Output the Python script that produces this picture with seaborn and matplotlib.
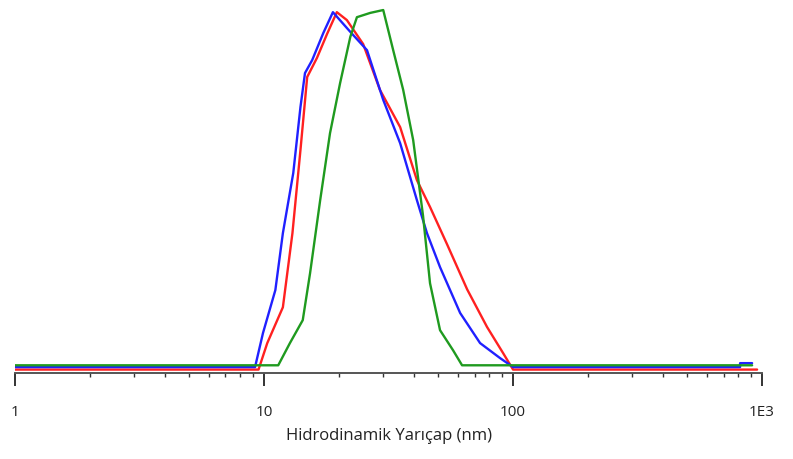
import numpy as np
import pandas as pd
import matplotlib.pyplot as plt
import seaborn as sns
from matplotlib.ticker import FixedLocator, LogLocator, NullFormatter

# radius (nm) and intensity
blue_x = [1, 9.2, 9.9, 11.1, 11.9, 13.1, 14.0, 14.6, 15.6, 17.3, 18.9, 22.2, 25.9,
          30.1, 35.2, 41.1, 45.1, 50.9, 61.3, 73.7, 88.7, 100, 816, 816, 912]
blue_y = [0.3, 0.3, 9.8, 21.8, 37.7, 54.5, 72.9, 82.4, 86.0, 93.6, 99.4, 93.9, 88.8,
          74.9, 62.8, 46.9, 37.7, 28.2, 15.4, 7.0, 2.8, 0.3, 0.3, 1.4, 1.4]

red_x = [1, 9.5, 10.3, 11.9, 13.0, 14.0, 14.9, 16.3, 17.9, 19.6, 21.5, 25.0, 29.2,
         35.2, 41.1, 46.4, 54.3, 65.4, 78.6, 91.2, 100, 955]
red_y = [-0.4, -0.4, 7.0, 17.0, 37.7, 60.9, 81.3, 86.6, 93.3, 99.4, 97.2, 90.5, 77.7,
         67.3, 52.5, 45.0, 34.6, 22.0, 11.5, 4.2, -0.4, -0.4]

green_x = [1, 11.4, 12.7, 14.3, 15.3, 16.8, 18.4, 20.2, 22.2, 23.6, 26.7, 30.1, 33.0,
           36.2, 39.7, 43.5, 46.4, 50.9, 57.4, 62.4, 912]
green_y = [0.8, 0.8, 7.0, 13.4, 26.5, 46.9, 65.6, 79.6, 92.5, 98.0, 99.2, 100.0, 88.8,
           77.7, 63.7, 42.5, 23.7, 10.6, 5.0, 0.8, 0.8]

tick_values = [1, 10, 100, 1000]
tick_labels = ["1", "10", "100", "1E3"]

colors = {"red": "#ff2020", "blue": "#2020ff", "green": "#1f9a1f"}
series = [("red", red_x, red_y), ("blue", blue_x, blue_y), ("green", green_x, green_y)]

sns.set_style("white")
plt.rcParams['font.family'] = ['Open Sans', 'DejaVu Sans']

fig = plt.figure(figsize=(7.93, 4.59), dpi=100)
ax = fig.add_axes([0.019, 0.187, 0.942, 0.813])

for name, xs, ys in series:
    df = pd.DataFrame({"r": xs, "i": ys})
    sns.lineplot(data=df, x="r", y="i", sort=False, estimator=None,
                 color=colors[name], linewidth=1.7, ax=ax)

ax.set_xscale("log")
ax.set_xlim(1, 1000)
ax.set_ylim(-1.4, 102.8)
ax.xaxis.set_major_locator(FixedLocator(tick_values))
ax.set_xticklabels(tick_labels, fontsize=11, color="#222222")
ax.xaxis.set_minor_locator(LogLocator(base=10, subs=np.arange(2, 10)))
ax.xaxis.set_minor_formatter(NullFormatter())
ax.tick_params(axis="x", which="major", direction="out", length=9, width=1.4,
               color="#333333", pad=14, bottom=True)
ax.tick_params(axis="x", which="minor", direction="out", length=3, width=1.0,
               color="#333333", bottom=True)
ax.set_yticks([])
ax.set_ylabel("")
ax.set_xlabel("Hidrodinamik Yarıçap (nm)", fontsize=12, color="#222222", labelpad=6)

for side in ["top", "left", "right"]:
    ax.spines[side].set_visible(False)
ax.spines["bottom"].set_color("#555555")
ax.spines["bottom"].set_linewidth(1.4)

fig.savefig("out.png", dpi=100)
